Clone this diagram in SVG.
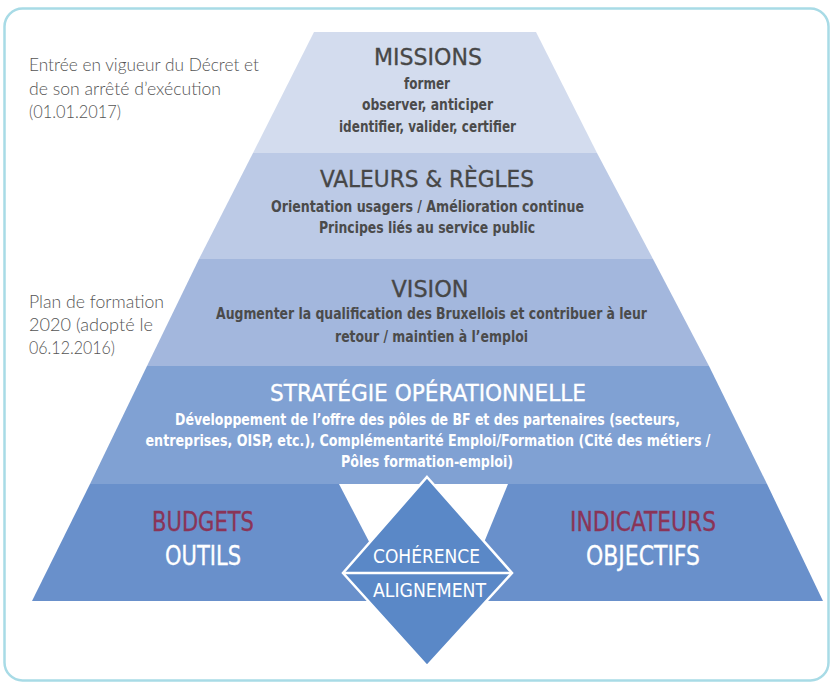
<svg xmlns="http://www.w3.org/2000/svg" width="830" height="683" viewBox="0 0 830 683">
<style>
.nar{font-family:"Liberation Sans Narrow","DejaVu Sans Condensed","Roboto",sans-serif;}
.ann{font-family:"Lato","Liberation Sans",sans-serif;font-weight:300;font-size:18px;fill:#555555;}
.ttl{font-size:23px;fill:#474747;stroke:#474747;stroke-width:0.3;text-anchor:middle;}
.sub{font-size:15px;font-weight:bold;fill:#4b4b4b;text-anchor:middle;}
.wttl{font-size:23px;fill:#ffffff;stroke:#ffffff;stroke-width:0.3;text-anchor:middle;}
.wsub{font-size:15px;font-weight:bold;fill:#ffffff;text-anchor:middle;}
.big{font-size:26px;text-anchor:middle;stroke-width:0.3;}
.red{fill:#8a3457;stroke:#8a3457;}
.wh{fill:#ffffff;stroke:#ffffff;}
.dia{font-size:20px;fill:#ffffff;text-anchor:middle;}
</style>
<rect x="4.5" y="8.5" width="824" height="672" rx="18" fill="#ffffff" stroke="#a8dbe6" stroke-width="2.5"/>

<g id="annotation-decret">
<text class="ann" x="29" y="71" textLength="230" lengthAdjust="spacingAndGlyphs">Entrée en vigueur du Décret et</text>
<text class="ann" x="29" y="95" textLength="192" lengthAdjust="spacingAndGlyphs">de son arrêté d’exécution</text>
<text class="ann" x="29" y="118" textLength="92" lengthAdjust="spacingAndGlyphs">(01.01.2017)</text>
</g>
<g id="annotation-plan">
<text class="ann" x="29" y="308" textLength="135" lengthAdjust="spacingAndGlyphs">Plan de formation</text>
<text class="ann" x="29" y="331" textLength="124" lengthAdjust="spacingAndGlyphs">2020 (adopté le</text>
<text class="ann" x="29" y="354" textLength="86" lengthAdjust="spacingAndGlyphs">06.12.2016)</text>
</g>

<g id="missions" class="nar">
<polygon points="314,32 536,32 597,153 253,153" fill="#d3dcee"/>
<text class="ttl" x="428" y="65" textLength="108" lengthAdjust="spacingAndGlyphs">MISSIONS</text>
<text class="sub" x="427" y="89" textLength="46" lengthAdjust="spacingAndGlyphs">former</text>
<text class="sub" x="427.5" y="110" textLength="131" lengthAdjust="spacingAndGlyphs">observer, anticiper</text>
<text class="sub" x="427.5" y="132" textLength="177" lengthAdjust="spacingAndGlyphs">identifier, valider, certifier</text>
</g>

<g id="valeurs" class="nar">
<polygon points="253,153 597,153 653,259 199,259" fill="#bccae6"/>
<text class="ttl" x="427" y="187" textLength="214" lengthAdjust="spacingAndGlyphs">VALEURS &amp; RÈGLES</text>
<text class="sub" x="427.5" y="212" textLength="313" lengthAdjust="spacingAndGlyphs">Orientation usagers / Amélioration continue</text>
<text class="sub" x="427" y="233" textLength="216" lengthAdjust="spacingAndGlyphs">Principes liés au service public</text>
</g>

<g id="vision" class="nar">
<polygon points="199,259 653,259 709,366 147,366" fill="#a3b7dd"/>
<text class="ttl" x="430" y="297" textLength="77" lengthAdjust="spacingAndGlyphs">VISION</text>
<text class="sub" x="431.5" y="319" textLength="431" lengthAdjust="spacingAndGlyphs">Augmenter la qualification des Bruxellois et contribuer à leur</text>
<text class="sub" x="431.5" y="342" textLength="193" lengthAdjust="spacingAndGlyphs">retour / maintien à l’emploi</text>
</g>

<g id="strategie" class="nar">
<polygon points="147,366 709,366 767,484 90,484" fill="#80a1d3"/>
<text class="wttl" x="428" y="401" textLength="316" lengthAdjust="spacingAndGlyphs">STRATÉGIE OPÉRATIONNELLE</text>
<text class="wsub" x="427.5" y="425" textLength="505" lengthAdjust="spacingAndGlyphs">Développement de l’offre des pôles de BF et des partenaires (secteurs,</text>
<text class="wsub" x="428" y="446" textLength="565" lengthAdjust="spacingAndGlyphs">entreprises, OISP, etc.), Complémentarité Emploi/Formation (Cité des métiers /</text>
<text class="wsub" x="427" y="467" textLength="172" lengthAdjust="spacingAndGlyphs">Pôles formation-emploi)</text>
</g>

<g id="budgets-outils" class="nar">
<polygon points="90,484 339,484 400,601 32,601" fill="#6990cb"/>
<text class="big red" x="203" y="531" textLength="102" lengthAdjust="spacingAndGlyphs">BUDGETS</text>
<text class="big wh" x="203" y="565" textLength="76" lengthAdjust="spacingAndGlyphs">OUTILS</text>
</g>

<g id="indicateurs-objectifs" class="nar">
<polygon points="508,484 767,484 823,601 460,601" fill="#6990cb"/>
<text class="big red" x="643" y="531" textLength="146" lengthAdjust="spacingAndGlyphs">INDICATEURS</text>
<text class="big wh" x="643" y="565" textLength="114" lengthAdjust="spacingAndGlyphs">OBJECTIFS</text>
</g>

<g id="connectors"></g>

<g id="coherence-alignement" class="nar">
<polygon points="427,477 512,573 427,666 343,573" fill="#5a88c7" stroke="#ffffff" stroke-width="2.5" stroke-linejoin="miter"/>
<line x1="343" y1="573" x2="512" y2="573" stroke="#ffffff" stroke-width="2.5"/>
<text class="dia" x="426.5" y="563" textLength="107" lengthAdjust="spacingAndGlyphs">COHÉRENCE</text>
<text class="dia" x="429.5" y="597" textLength="113" lengthAdjust="spacingAndGlyphs">ALIGNEMENT</text>
</g>
</svg>
